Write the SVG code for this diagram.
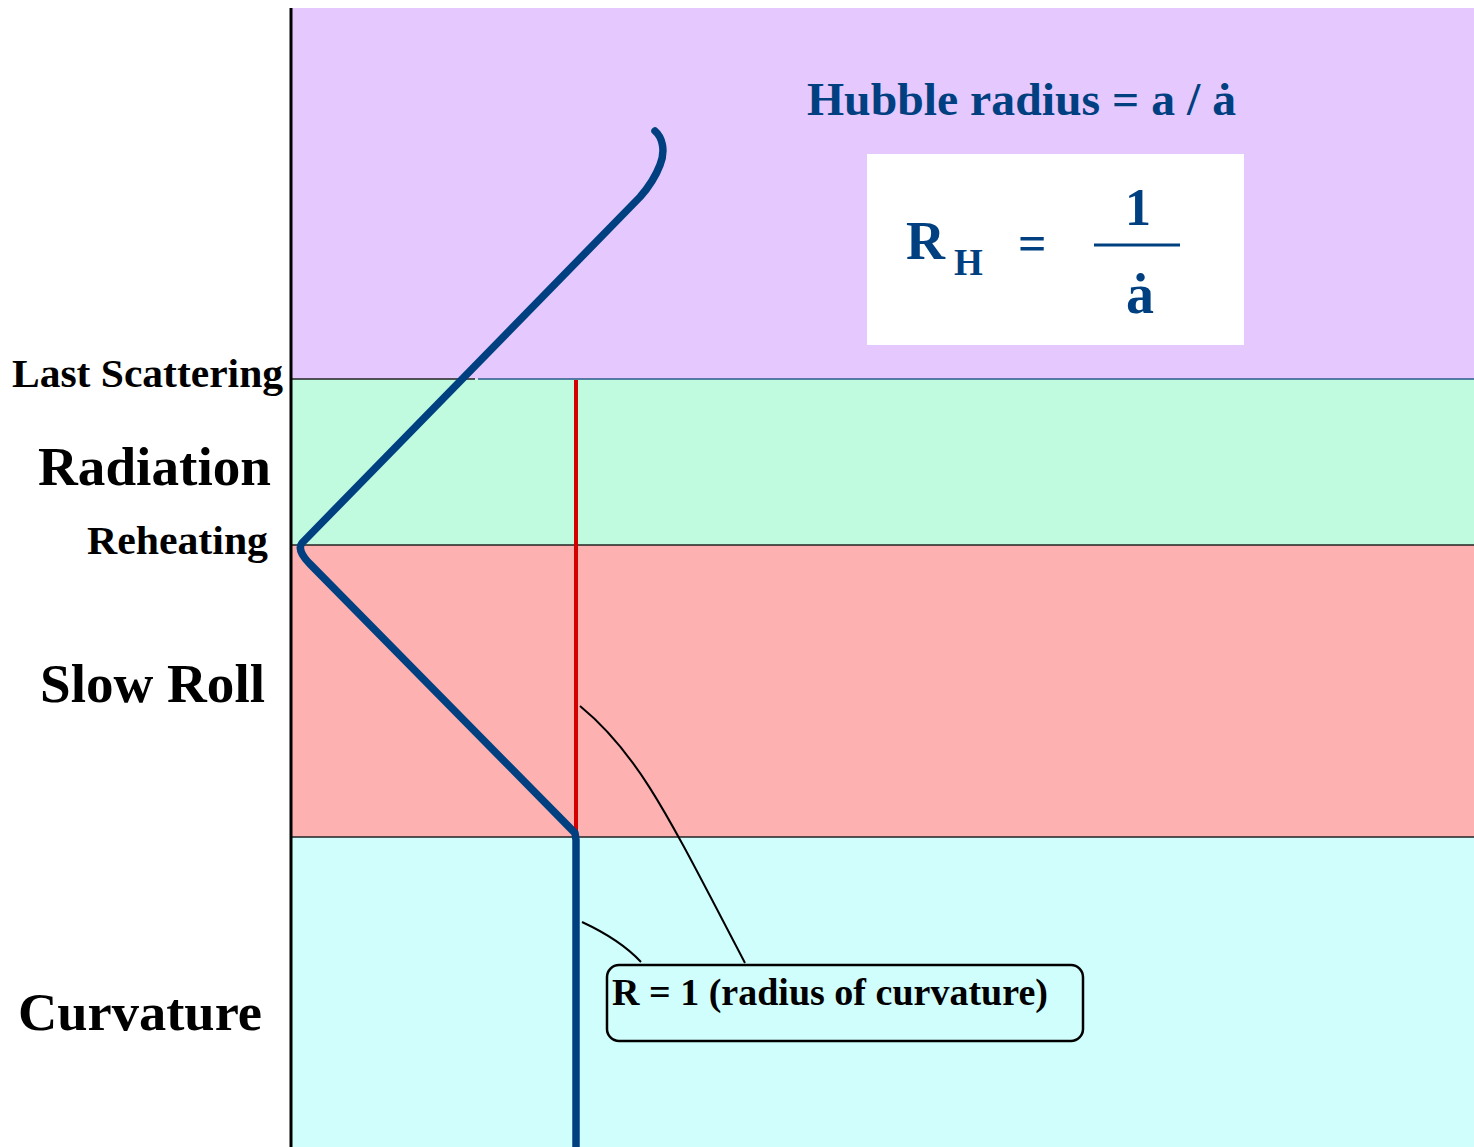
<svg xmlns="http://www.w3.org/2000/svg" width="1474" height="1147" viewBox="0 0 1474 1147">
<style>
.lbl{font-family:"Liberation Serif","Times New Roman",serif;font-weight:bold;fill:#000}
.blue{font-family:"Liberation Serif","Times New Roman",serif;font-weight:bold;fill:#004080}
.sep{stroke:#222;stroke-width:1.5;fill:none}
.curve{stroke:#004080;stroke-width:7.5;fill:none;stroke-linejoin:round;stroke-linecap:round}
.lead{stroke:#000;stroke-width:2;fill:none}
</style>
<rect x="0" y="0" width="1474" height="1147" fill="#fff"/>
<g id="bands">
<rect id="band-purple" x="291" y="8" width="1183" height="371" fill="#e4c8fe"/>
<rect id="band-green" x="291" y="379" width="1183" height="166" fill="#c0fadf"/>
<rect id="band-pink" x="291" y="545" width="1183" height="292" fill="#fdb1b1"/>
<rect id="band-cyan" x="291" y="837" width="1183" height="310" fill="#d0fefd"/>
<line class="sep" x1="291" y1="379" x2="475" y2="379"/>
<line x1="478" y1="379" x2="1474" y2="379" stroke="#2a5a8a" stroke-width="1.5"/>
<line class="sep" x1="291" y1="545" x2="1474" y2="545"/>
<line class="sep" x1="291" y1="837" x2="1474" y2="837"/>
<line x1="291" y1="8" x2="291" y2="1147" stroke="#000" stroke-width="3"/>
</g>
<g id="labels">
<text class="lbl" x="12" y="387" font-size="40" textLength="271" lengthAdjust="spacingAndGlyphs">Last Scattering</text>
<text class="lbl" x="38" y="485" font-size="54" textLength="233" lengthAdjust="spacingAndGlyphs">Radiation</text>
<text class="lbl" x="87" y="554" font-size="41" textLength="181" lengthAdjust="spacingAndGlyphs">Reheating</text>
<text class="lbl" x="40" y="702" font-size="54" textLength="225" lengthAdjust="spacingAndGlyphs">Slow Roll</text>
<text class="lbl" x="18" y="1030" font-size="53" textLength="244" lengthAdjust="spacingAndGlyphs">Curvature</text>
</g>
<g id="hubble-title">
<text class="blue" x="807" y="115" font-size="47" textLength="429" lengthAdjust="spacingAndGlyphs">Hubble radius = a / ȧ</text>
</g>
<g id="formula-box">
<rect x="867" y="154" width="377" height="191" fill="#fff"/>
<text class="blue" x="906" y="259" font-size="54">R</text>
<text class="blue" x="954" y="275" font-size="37">H</text>
<text class="blue" x="1018" y="260" font-size="50">=</text>
<text class="blue" x="1138" y="225" font-size="52" text-anchor="middle">1</text>
<line x1="1094" y1="245" x2="1180" y2="245" stroke="#004080" stroke-width="3"/>
<text class="blue" x="1140" y="313" font-size="56" text-anchor="middle">ȧ</text>
</g>
<g id="red-line">
<line x1="576" y1="380" x2="576" y2="833" stroke="#d40000" stroke-width="4"/>
</g>
<g id="hubble-curve">
<path class="curve" d="M655,131 C662,137 666,150 660,165 C655,178 648,188 640,197 L302,543 C298,548 302,556 310,564 L575,833 L576,840 L576,1147"/>
</g>
<g id="connectors">
<path class="lead" d="M580,706 C640,755 670,820 745,963"/>
<path class="lead" d="M582,922 C610,935 628,948 641,962"/>
</g>
<g id="callout">
<rect x="607" y="965" width="476" height="76" rx="12" ry="12" fill="#d0fefd" stroke="#000" stroke-width="2.5"/>
<text class="lbl" x="612" y="1005" font-size="37" textLength="436" lengthAdjust="spacingAndGlyphs">R = 1 (radius of curvature)</text>
</g>
</svg>
